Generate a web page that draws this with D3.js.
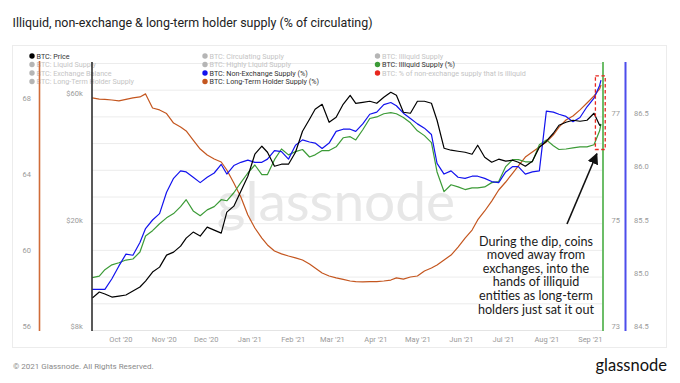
<!DOCTYPE html>
<html><head><meta charset="utf-8">
<script src="https://cdn.jsdelivr.net/npm/d3@7"></script>
<style>
html,body{margin:0;padding:0;background:#fff;}
svg{display:block;font-family:Roboto,"Liberation Sans",sans-serif;}
</style></head><body>
<svg id="chart" width="680" height="383"></svg>
<script>
// ---------------- DATA ----------------
const dates = ["2020-09-11","2020-09-16","2020-09-20","2020-09-25","2020-09-30","2020-10-05","2020-10-10","2020-10-15","2020-10-19","2020-10-24","2020-10-29","2020-11-03","2020-11-08","2020-11-13","2020-11-17","2020-11-22","2020-11-27","2020-12-02","2020-12-07","2020-12-12","2020-12-16","2020-12-21","2020-12-26","2020-12-31","2021-01-05","2021-01-10","2021-01-14","2021-01-19","2021-01-24","2021-01-29","2021-02-03","2021-02-08","2021-02-13","2021-02-17","2021-02-22","2021-02-27","2021-03-04","2021-03-09","2021-03-14","2021-03-18","2021-03-23","2021-03-28","2021-04-02","2021-04-07","2021-04-12","2021-04-16","2021-04-21","2021-04-26","2021-05-01","2021-05-06","2021-05-11","2021-05-15","2021-05-20","2021-05-25","2021-05-30","2021-06-04","2021-06-09","2021-06-13","2021-06-18","2021-06-23","2021-06-28","2021-07-03","2021-07-08","2021-07-12","2021-07-17","2021-07-22","2021-07-27","2021-08-01","2021-08-06","2021-08-10","2021-08-15","2021-08-20","2021-08-25","2021-08-30","2021-09-04","2021-09-08","2021-09-09"];

const price = [10540,11100,10910,10630,10720,10820,11190,11590,12200,13180,
  13760,15260,15660,16490,17670,18610,17980,19430,18930,18450,
  22110,23280,26490,30140,36430,39030,37060,32850,33420,33420,
  37060,44410,49250,53680,56040,47990,50100,56040,60560,56520,
  57010,57510,56520,59520,62140,60560,52310,51860,57510,57510,
  56520,48830,38360,37710,37380,37060,36430,39360,35500,34000,
  34900,34300,34600,34000,32850,34300,38690,40750,43650,46760,
  47990,48830,48410,48830,51860,46760,46900];

const nonExchangePct = [84.88,84.88,84.88,84.98,85.10,85.21,85.20,85.32,85.45,85.53,
  85.59,85.79,85.92,85.99,85.98,85.93,85.88,85.93,85.97,86.05,
  85.96,86.04,86.07,86.09,86.07,86.07,86.10,86.18,86.17,86.10,
  86.23,86.28,86.26,86.25,86.20,86.25,86.36,86.38,86.38,86.36,
  86.43,86.52,86.54,86.61,86.63,86.60,86.53,86.48,86.43,86.39,
  86.33,86.06,85.96,85.99,85.93,85.92,85.94,85.94,85.92,85.89,
  85.88,85.98,86.03,86.03,85.96,85.98,85.99,86.55,86.54,86.52,
  86.50,86.45,86.49,86.59,86.67,86.79,86.84];

const illiquidPct = [73.98,74.01,74.13,74.22,74.26,74.31,74.33,74.46,74.76,74.86,
  74.99,75.10,75.18,75.31,75.44,75.23,75.14,75.25,75.31,75.44,
  75.42,75.57,75.76,75.94,76.09,75.91,75.91,76.19,76.39,76.28,
  76.34,76.38,76.24,76.28,76.36,76.36,76.43,76.60,76.62,76.56,
  76.75,76.96,76.99,77.05,77.07,77.05,76.98,76.88,76.73,76.64,
  76.51,75.96,75.59,75.72,75.68,75.63,75.66,75.66,75.68,75.76,
  75.78,76.06,76.19,76.19,76.15,76.15,76.47,76.56,76.45,76.38,
  76.39,76.41,76.43,76.43,76.47,76.73,76.86];

const lthPct = [68.17,68.11,68.09,68.06,68.01,68.09,68.17,68.22,68.38,67.64,
  67.54,67.35,66.85,66.64,66.44,65.96,65.49,65.18,64.97,64.81,
  64.39,63.71,62.97,62.03,61.35,60.82,60.46,60.14,59.99,59.88,
  59.78,59.67,59.46,59.25,58.99,58.83,58.73,58.65,58.57,58.54,
  58.52,58.54,58.54,58.57,58.62,58.73,58.67,58.78,58.83,59.09,
  59.25,59.41,59.67,59.93,60.35,60.82,61.24,61.77,62.24,62.76,
  63.34,63.76,64.23,64.60,65.07,65.33,65.60,65.86,66.23,66.64,
  67.01,67.22,67.54,67.90,68.27,68.64,68.85];

const priceTicks = [8000, 20000, 60000];
const lthTicks = [56, 60, 64, 68];
const illiquidTicks = [73, 75, 77];
const nonExchangeTicks = [84.5, 85, 85.5, 86, 86.5];
const gridValues = [73.5, 74, 74.5, 75, 75.5, 76, 76.5, 77, 77.5, 78];

const legendCol1 = ["BTC: Price","BTC: Liquid Supply","BTC: Exchange Balance","BTC: Long-Term Holder Supply"];
const legendCol2 = ["BTC: Circulating Supply","BTC: Highly Liquid Supply","BTC: Non-Exchange Supply (%)","BTC: Long-Term Holder Supply (%)"];
const legendCol3 = ["BTC: Illiquid Supply","BTC: Illiquid Supply (%)","BTC: % of non-exchange supply that is illiquid"];

const titleText = "Illiquid, non-exchange & long-term holder supply (% of circulating)";
const noteLines = ["During the dip, coins","moved away from","exchanges, into the","hands of illiquid","entities as long-term","holders just sat it out"];
const highlight = {start:"2021-09-05", end:"2021-09-12", low:86.19, high:86.88};
const arrowTip = {date:"2021-09-06", value:86.15};

(function(){
// ---------------- STYLE ----------------
const C = {price:"#000000", non:"#1212ee", ill:"#3c9b37", lth:"#c4561f", red:"#e8271e",
  inactiveDot:"#b5b5b5", inactiveText:"#c4c4c4", activeText:"#333"};

const svg = d3.select("#chart");
svg.append("rect").attr("width",680).attr("height",383).attr("fill","#fff");

const parse = d3.utcParse("%Y-%m-%d");
const D = dates.map(parse);

const x = d3.scaleUtc().domain([new Date(Date.UTC(2020,8,10,19)), new Date(Date.UTC(2021,8,10,10))]).range([92,603]);
const yTop = 63, yBot = 330;
const yPrice = d3.scaleLog().domain([8000,80000]).range([yBot,yTop]);
const yIll = d3.scaleLinear().domain([73,78]).range([yBot,yTop]);
const yNon = d3.scaleLinear().domain([84.5,87]).range([yBot,yTop]);
const yLth = d3.scaleLinear().domain([56,70]).range([yBot,yTop]);

// title
svg.append("text").attr("x",12.5).attr("y",27).attr("font-size",12.8).attr("fill","#222")
  .attr("textLength",360).attr("lengthAdjust","spacingAndGlyphs").text(titleText);

// panel
svg.append("rect").attr("x",12.5).attr("y",45.5).attr("width",654).attr("height",302)
  .attr("fill","none").attr("stroke","#ececec");

// grid
svg.append("g").selectAll("line").data(gridValues).join("line")
  .attr("x1",92).attr("x2",603).attr("y1",d=>yIll(d)+0.5).attr("y2",d=>yIll(d)+0.5)
  .attr("stroke","#ececec").attr("stroke-width",1);
svg.append("line").attr("x1",92).attr("x2",603).attr("y1",yBot+0.5).attr("y2",yBot+0.5).attr("stroke","#e4e4e4");

// watermark
svg.append("text").attr("x",336).attr("y",221).attr("text-anchor","middle")
  .attr("font-family","Lato, sans-serif").attr("font-size",55).attr("fill","#e7e7e7").text("glassnode");

// legend
const legendRowsY = [56,64.5,73,81.5];
const legendCols = [
  {x:32, items:legendCol1, dot:[C.price,C.inactiveDot,C.inactiveDot,C.inactiveDot], active:[1,0,0,0]},
  {x:205, items:legendCol2, dot:[C.inactiveDot,C.inactiveDot,C.non,C.lth], active:[0,0,1,1]},
  {x:377.5, items:legendCol3, dot:[C.inactiveDot,C.ill,C.red], active:[0,1,0]}
];
const lg = svg.append("g").attr("font-size",7.2);
legendCols.forEach(col=>{
  col.items.forEach((t,i)=>{
    lg.append("circle").attr("cx",col.x).attr("cy",legendRowsY[i]).attr("r",2.7).attr("fill",col.dot[i]);
    lg.append("text").attr("x",col.x+4.5).attr("y",legendRowsY[i]+2.5)
      .attr("fill",col.active[i]?C.activeText:C.inactiveText).text(t);
  });
});

// series
svg.append("clipPath").attr("id","plotclip").append("rect").attr("x",92).attr("y",yTop-2).attr("width",512).attr("height",yBot-yTop+2);
const plot = svg.append("g").attr("clip-path","url(#plotclip)");
function addLine(vals, yS, color, w){
  plot.append("path").datum(vals.map((v,i)=>[D[i],v]))
    .attr("fill","none").attr("stroke",color).attr("stroke-width",w).attr("stroke-linejoin","round")
    .attr("d", d3.line().x(d=>x(d[0])).y(d=>yS(d[1])));
}
addLine(lthPct, yLth, C.lth, 1.2);
addLine(illiquidPct, yIll, C.ill, 1.2);
addLine(nonExchangePct, yNon, C.non, 1.2);
addLine(price, yPrice, C.price, 1.2);

// axes
function styleAxis(g){
  g.select(".domain").remove();
  g.selectAll("text").attr("fill","#9a9a9a").attr("font-size",7.5).attr("font-family","Roboto, sans-serif");
}
svg.append("g").attr("transform","translate(39.5,0)")
  .call(d3.axisLeft(yLth).tickValues(lthTicks).tickSize(0).tickPadding(8.5).tickFormat(d3.format("d")))
  .call(g=>{styleAxis(g); g.selectAll("text").attr("dy","-0.15em");});
svg.append("line").attr("x1",39.5).attr("x2",39.5).attr("y1",61).attr("y2",331).attr("stroke","#d06c38").attr("stroke-width",1.6);

svg.append("g").attr("transform","translate(92,0)")
  .call(d3.axisLeft(yPrice).tickValues(priceTicks).tickSize(0).tickPadding(9.3).tickFormat(d=>"$"+(d/1000)+"k"))
  .call(g=>{styleAxis(g); g.selectAll("text").attr("dy","-0.15em");});
svg.append("line").attr("x1",92).attr("x2",92).attr("y1",62).attr("y2",331).attr("stroke","#222").attr("stroke-width",1.5);

svg.append("g").attr("transform","translate(603,0)")
  .call(d3.axisRight(yIll).tickValues(illiquidTicks).tickSize(0).tickPadding(8.5).tickFormat(d3.format("d")))
  .call(g=>{styleAxis(g); g.selectAll("text").attr("dy","-0.15em");});
svg.append("line").attr("x1",603).attr("x2",603).attr("y1",62).attr("y2",331).attr("stroke","#6cbd68").attr("stroke-width",2);

svg.append("g").attr("transform","translate(625.5,0)")
  .call(d3.axisRight(yNon).tickValues(nonExchangeTicks).tickSize(0).tickPadding(8.5).tickFormat(d3.format(".1f")))
  .call(g=>{styleAxis(g); g.selectAll("text").attr("dy","-0.15em");});
svg.append("line").attr("x1",625.5).attr("x2",625.5).attr("y1",62).attr("y2",331).attr("stroke","#4d4deb").attr("stroke-width",2);

svg.append("g").attr("transform",`translate(0,${yBot})`)
  .call(d3.axisBottom(x).ticks(d3.utcMonth.every(1)).tickSize(0).tickPadding(7).tickFormat(d3.utcFormat("%b '%y")))
  .call(g=>{styleAxis(g);});

// highlight box
svg.append("rect")
  .attr("x",x(parse(highlight.start))).attr("y",yNon(highlight.high))
  .attr("width",x(parse(highlight.end))-x(parse(highlight.start)))
  .attr("height",yNon(highlight.low)-yNon(highlight.high))
  .attr("fill","none").attr("stroke",C.red).attr("stroke-width",1.3).attr("stroke-dasharray","3.5,2.5");

// annotation
const noteX = 536, noteY0 = 245.5, noteDy = 13.6;
const note = svg.append("g").attr("font-family","Lato, sans-serif").attr("font-size",12.6).attr("fill","#1a1a1a").attr("text-anchor","middle");
noteLines.forEach((t,i)=>note.append("text").attr("x",noteX).attr("y",noteY0+i*noteDy).text(t));

const defs = svg.append("defs");
defs.append("marker").attr("id","ah").attr("viewBox","0 0 10 10").attr("refX",9).attr("refY",5)
  .attr("markerWidth",7).attr("markerHeight",7).attr("orient","auto")
  .append("path").attr("d","M0,0L10,5L0,10z").attr("fill","#111");
const tipX = x(parse(arrowTip.date)), tipY = yNon(arrowTip.value);
svg.append("line").attr("x1",567).attr("y1",224).attr("x2",tipX).attr("y2",tipY)
  .attr("stroke","#111").attr("stroke-width",1.6).attr("marker-end","url(#ah)");

// footer
svg.append("text").attr("x",13).attr("y",369).attr("font-size",8).attr("fill","#8a8a8a").text("© 2021 Glassnode. All Rights Reserved.");
svg.append("text").attr("x",667).attr("y",371).attr("text-anchor","end").attr("font-family","Lato, sans-serif")
  .attr("font-size",16.5).attr("fill","#111").text("glassnode");
})();
</script>
</body></html>
